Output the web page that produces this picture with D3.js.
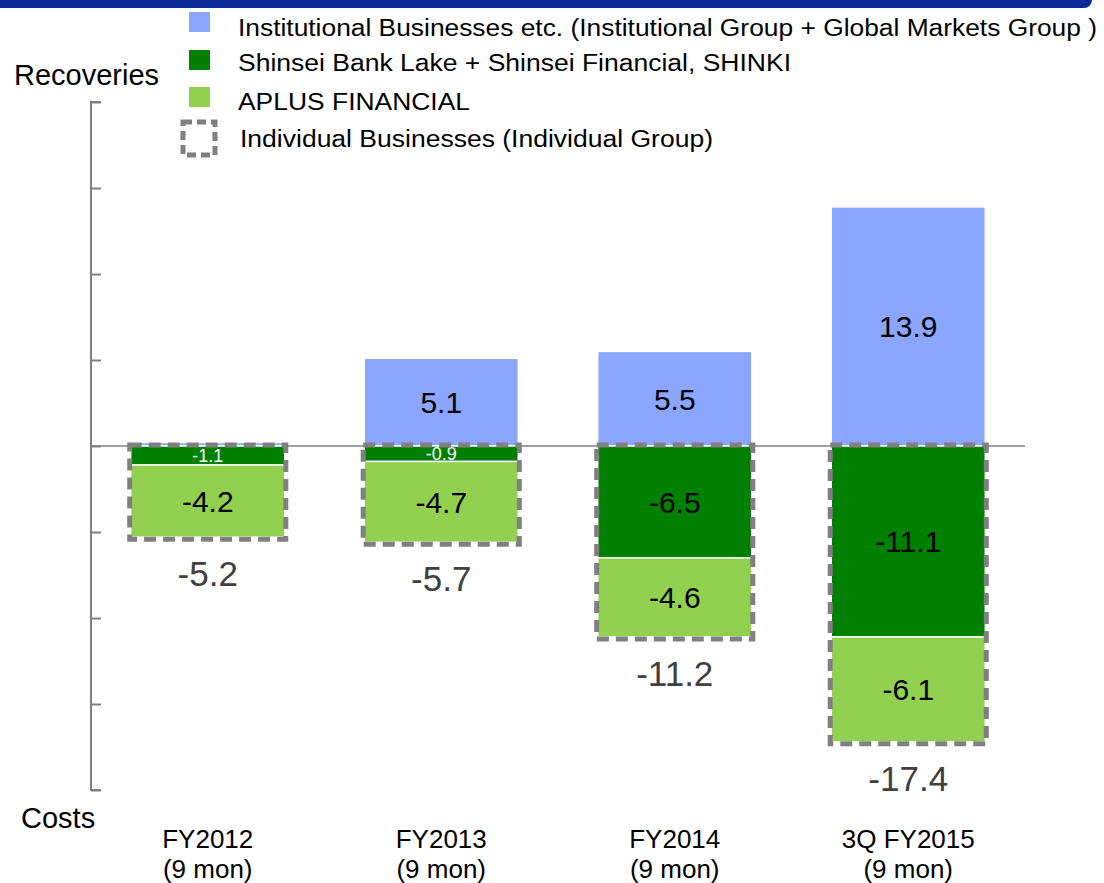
<!DOCTYPE html>
<html>
<head>
<meta charset="utf-8">
<script src="https://cdn.jsdelivr.net/npm/d3@7"></script>
<style>
  body { margin: 0; background: #fff; }
  svg { font-family: Arial, 'Liberation Sans', sans-serif; }
</style>
</head>
<body>
<div id="grafico"></div>
<script>
const categories = ['FY2012', 'FY2013', 'FY2014', '3Q FY2015']
const catLines = [['FY2012', '(9 mon)'], ['FY2013', '(9 mon)'], ['FY2014', '(9 mon)'], ['3Q FY2015', '(9 mon)']]
const institutional = [0.2, 5.1, 5.5, 13.9]
const lakeShinki = [-1.1, -0.9, -6.5, -11.1]
const aplus = [-4.2, -4.7, -4.6, -6.1]
const totals = [-5.2, -5.7, -11.2, -17.4]
const seriesNames = ['Institutional Businesses etc. (Institutional Group + Global Markets Group )',
                     'Shinsei Bank Lake + Shinsei Financial, SHINKI',
                     'APLUS FINANCIAL']
const legendBox = 'Individual Businesses (Individual Group)'

const width = 1104
const height = 883
const colors = ['#8AA6FF', '#008000', '#92D050']
const gray = '#808080'
const fmt = d3.formatLocale({decimal: '.', thousands: ',', grouping: [3], currency: ['', ''], minus: '-'}).format('.1f')

const svg = d3.select('#grafico').append('svg')
              .attr('width', width)
              .attr('height', height)

// header strip
svg.append('rect')
   .attr('x', -12).attr('y', -12)
   .attr('width', 1104).attr('height', 20)
   .attr('rx', 8)
   .style('fill', '#0A2A96')

const x = d3.scaleBand()
            .domain(categories)
            .range([91, 1025])
            .paddingInner(0.34)
            .paddingOuter(0.17)

const y = d3.scaleLinear()
            .domain([-20, 20])
            .range([790, 102])

// axis
const yAxis = d3.axisRight(y).tickValues(d3.range(-20, 21, 5)).tickSize(10).tickFormat('')
const axisG = svg.append('g').attr('transform', 'translate(91,0)').call(yAxis)
axisG.select('.domain').attr('d', `M10,${y(20)}H0V${y(-20)}H10`).style('stroke', gray).style('stroke-width', 2).style('fill', 'none')
axisG.selectAll('.tick line').style('stroke', gray).style('stroke-width', 2)

// zero line
svg.append('line')
   .attr('x1', 91).attr('x2', 1025)
   .attr('y1', y(0)).attr('y2', y(0))
   .style('stroke', gray).style('stroke-width', 1.5)

// stacked segments
const segs = []
categories.forEach((c, i) => {
    segs.push({cat: c, s: 0, v0: 0, v1: institutional[i], v: institutional[i]})
    segs.push({cat: c, s: 1, v0: 0, v1: lakeShinki[i], v: lakeShinki[i]})
    segs.push({cat: c, s: 2, v0: lakeShinki[i], v1: lakeShinki[i] + aplus[i], v: aplus[i]})
})

const bars = svg.selectAll('g.seg')
                .data(segs)
                .enter()
                .append('g')
                .attr('class', 'seg')

bars.append('rect')
    .attr('x', d => x(d.cat))
    .attr('y', d => y(Math.max(d.v0, d.v1)))
    .attr('width', x.bandwidth())
    .attr('height', d => Math.abs(y(d.v0) - y(d.v1)))
    .style('fill', d => colors[d.s])
    .style('stroke', '#fff')
    .style('stroke-width', 1.5)

bars.filter(d => Math.abs(d.v) >= 0.5)
    .append('text')
    .attr('x', d => x(d.cat) + x.bandwidth() / 2)
    .attr('y', d => (y(d.v0) + y(d.v1)) / 2)
    .attr('dy', '0.36em')
    .attr('text-anchor', 'middle')
    .style('font-size', d => Math.abs(d.v) < 2 ? '18px' : '30px')
    .style('fill', d => Math.abs(d.v) < 2 ? '#fff' : '#000')
    .text(d => fmt(d.v))

// individual business dashed boxes
svg.selectAll('rect.indiv')
   .data(categories)
   .enter()
   .append('rect')
   .attr('class', 'indiv')
   .attr('x', d => x(d) - 1)
   .attr('y', y(0) - 1)
   .attr('width', x.bandwidth() + 2)
   .attr('height', (d, i) => y(lakeShinki[i] + aplus[i]) - y(0) + 3)
   .style('fill', 'none')
   .style('stroke', gray)
   .style('stroke-width', 5)
   .style('stroke-dasharray', '12,7')

// totals
svg.selectAll('text.total')
   .data(categories)
   .enter()
   .append('text')
   .attr('class', 'total')
   .attr('x', d => x(d) + x.bandwidth() / 2)
   .attr('y', (d, i) => y(lakeShinki[i] + aplus[i]) + 49)
   .attr('text-anchor', 'middle')
   .style('font-size', '35px')
   .style('fill', '#404040')
   .text((d, i) => fmt(totals[i]))

// category labels
const catText = svg.selectAll('text.cat')
   .data(categories)
   .enter()
   .append('text')
   .attr('class', 'cat')
   .attr('text-anchor', 'middle')
   .style('font-size', '26px')
   .style('fill', '#000')

catText.selectAll('tspan')
       .data((d, i) => catLines[i].map(t => ({t, c: d})))
       .enter()
       .append('tspan')
       .attr('x', d => x(d.c) + x.bandwidth() / 2)
       .attr('y', (d, j) => 848 + j * 30)
       .text(d => d.t)

svg.append('text').attr('x', 14).attr('y', 85).style('font-size', '29px').text('Recoveries')
svg.append('text').attr('x', 21).attr('y', 828).style('font-size', '29px').text('Costs')

// legend
const legend = svg.append('g')
const boxTop = [12, 50, 87]
const textY = [36, 71, 110]
const rowLen = [859, 553, 232]
legend.selectAll('rect.leg')
      .data(seriesNames)
      .enter()
      .append('rect')
      .attr('class', 'leg')
      .attr('x', 189)
      .attr('y', (d, i) => boxTop[i])
      .attr('width', 21)
      .attr('height', 20)
      .style('fill', (d, i) => colors[i])

legend.selectAll('text.leg')
      .data(seriesNames)
      .enter()
      .append('text')
      .attr('class', 'leg')
      .attr('x', 238)
      .attr('y', (d, i) => textY[i])
      .style('font-size', '23px')
      .attr('textLength', (d, i) => rowLen[i])
      .attr('lengthAdjust', 'spacingAndGlyphs')
      .text(d => d)

legend.append('rect')
      .attr('x', 183).attr('y', 122)
      .attr('width', 32).attr('height', 33)
      .style('fill', 'none')
      .style('stroke', gray)
      .style('stroke-width', 5)
      .style('stroke-dasharray', '9,5')

legend.append('text')
      .attr('x', 240).attr('y', 147)
      .style('font-size', '23px')
      .attr('textLength', 473)
      .attr('lengthAdjust', 'spacingAndGlyphs')
      .text(legendBox)
</script>
</body>
</html>
